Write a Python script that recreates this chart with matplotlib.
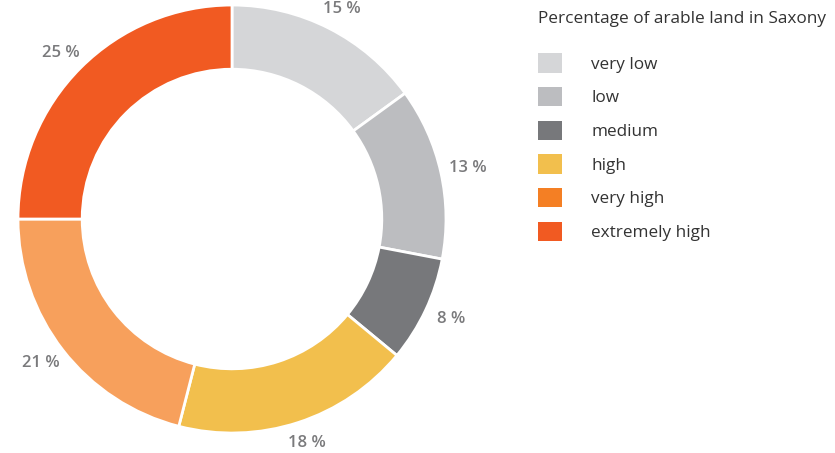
import numpy as np
import matplotlib.pyplot as plt
from matplotlib.patches import Patch

plt.rcParams['font.family'] = ['Open Sans', 'DejaVu Sans']

categories = ["very low", "low", "medium", "high", "very high", "extremely high"]
shares = [15, 13, 8, 18, 21, 25]
slice_colors = ["#d5d6d8", "#bcbdc0", "#77787b", "#f2bf4d", "#f7a05c", "#f15a22"]
legend_colors = ["#d5d6d8", "#bcbdc0", "#77787b", "#f2bf4d", "#f47f24", "#f15a22"]
legend_title = "Percentage of arable land in Saxony"

fig = plt.figure(figsize=(8.35, 4.53), dpi=100)
ax = fig.add_axes([-0.0425, -0.074, 0.6407, 1.181])

wedges, _ = ax.pie(shares, colors=slice_colors, startangle=90, counterclock=False,
                   radius=1.0, wedgeprops=dict(width=0.30, edgecolor="white", linewidth=2))

# value labels just outside the ring
for w, v in zip(wedges, shares):
    ang = np.deg2rad((w.theta1 + w.theta2) / 2)
    ax.text(1.13 * np.cos(ang), 1.10 * np.sin(ang), f"{v} %", ha="center", va="center",
            fontsize=12, color="#7a7a7c", fontweight="semibold")

ax.set_xlim(-1.25, 1.25)
ax.set_ylim(-1.25, 1.25)
ax.set_aspect("equal")
ax.axis("off")

handles = [Patch(facecolor=c, edgecolor="none") for c in legend_colors]
leg = fig.legend(handles, categories, title=legend_title, loc="upper left",
                 bbox_to_anchor=(0.6316, 1.0), frameon=False, fontsize=12.3,
                 title_fontsize=12.4, handlelength=1.35, handleheight=1.35,
                 handletextpad=1.75, labelspacing=0.84, borderaxespad=0.25)
leg._legend_box.align = "left"
leg._legend_box.sep = 19
for t in leg.get_texts():
    t.set_color("#333333")
leg.get_title().set_color("#333333")

fig.savefig("out.png", dpi=100)
